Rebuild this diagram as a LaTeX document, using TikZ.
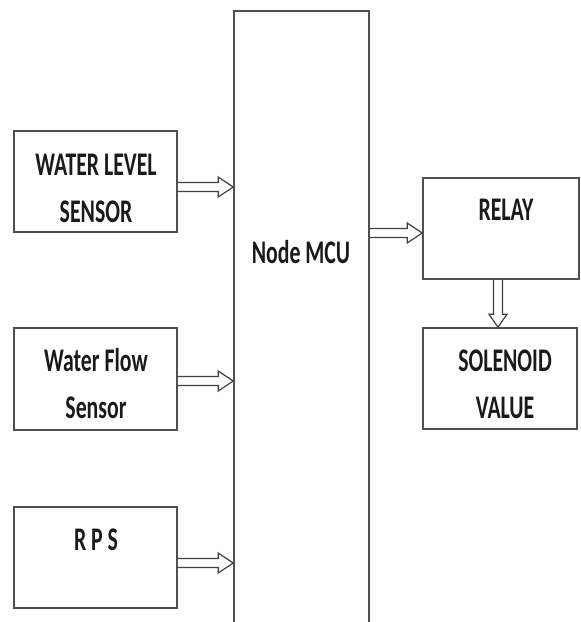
\documentclass[tikz,border=0pt]{standalone}
\usepackage{fontspec}
\setmainfont{Carlito}
\usetikzlibrary{calc}
\definecolor{boxline}{RGB}{80,80,80}
\definecolor{arrline}{RGB}{64,64,64}
\definecolor{textcol}{RGB}{26,26,26}
\newcommand\cnd[1]{\scalebox{0.66}[1]{#1}}
\newcommand\harrow[2]{\draw[arr] let \p1=#1, \p2=#2 in
  (\x1,\y1+4.5pt) -- (\x2-15pt,\y1+4.5pt) -- (\x2-15pt,\y1+10pt) -- (\x2,\y1)
  -- (\x2-15pt,\y1-10pt) -- (\x2-15pt,\y1-4.5pt) -- (\x1,\y1-4.5pt);}
\newcommand\varrow[2]{\draw[arr] let \p1=#1, \p2=#2 in
  (\x1-4.5pt,\y1) -- (\x1-4.5pt,\y2+13pt) -- (\x1-9pt,\y2+13pt) -- (\x1,\y2)
  -- (\x1+9pt,\y2+13pt) -- (\x1+4.5pt,\y2+13pt) -- (\x1+4.5pt,\y1);}
\begin{document}
\begin{tikzpicture}[x=1pt,y=-1pt,
  box/.style={draw=boxline, line width=1.6pt, inner sep=0pt, fill=white},
  arr/.style={draw=arrline, line width=1.2pt, line join=miter},
  txt/.style={font=\fontsize{33}{47}\selectfont\bfseries, align=center, anchor=base, inner sep=0pt, text=textcol}]
\useasboundingbox[fill=white] (0,0) rectangle (581,622);
\begin{scope}
\clip (0,0) rectangle (581,622);
\node[box, minimum width=135pt, minimum height=640pt, anchor=north] (mcu) at (301.5,10) {};
\end{scope}
\node[box, minimum width=163pt, minimum height=101pt] (wls) at (95.5,181.5) {};
\node[box, minimum width=163pt, minimum height=102pt] (wfs) at (95.5,379) {};
\node[box, minimum width=163pt, minimum height=101pt] (rps) at (95.5,557.5) {};
\node[box, minimum width=156pt, minimum height=101pt] (relay) at (501,228.5) {};
\node[box, minimum width=154pt, minimum height=101pt] (sol) at (500,378.5) {};
\node[txt] (wlsT) at (96,222) {\cnd{WATER LEVEL}\\\cnd{SENSOR}};
\node[txt] (wfsT) at (96,418) {\cnd{Water Flow}\\\cnd{Sensor}};
\node[txt] (rpsT) at (96,550) {\cnd{R P S}};
\node[txt] (mcuT) at (301,263) {\cnd{Node MCU}};
\node[txt] (relT) at (506,220) {\cnd{RELAY}};
\node[txt] (solT) at (505,418) {\cnd{SOLENOID}\\\cnd{VALUE}};
\harrow{([yshift=-5.5pt]wls.east)}{(mcu.west)}
\harrow{([yshift=-2pt]wfs.east)}{(mcu.west)}
\harrow{([yshift=-5.5pt]rps.east)}{(mcu.west)}
\harrow{($(relay.west -| mcu.east)+(0,4.5)$)}{(relay.west)}
\varrow{([xshift=-3pt]relay.south)}{(sol.north)}
\end{tikzpicture}
\end{document}
